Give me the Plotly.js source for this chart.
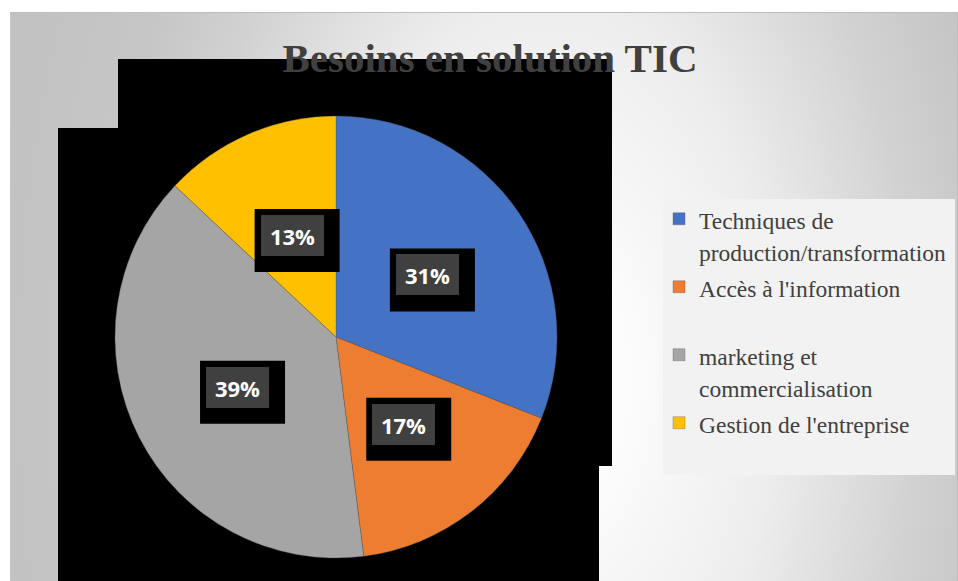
<!DOCTYPE html>
<html>
<head>
<meta charset="utf-8">
<script src="https://cdn.plot.ly/plotly-3.0.1.min.js"></script>
<style>
  html, body { margin:0; padding:0; background:#ffffff; }
  #bg { position:absolute; left:10px; top:12px; width:946px; height:568px;
        border-top:1px solid #bdbdbd; border-left:1px solid #c6c6c6; border-right:1px solid #bdbdbd;
        background: radial-gradient(ellipse 560px 960px at 540px 368px, #ffffff 0%, #fbfbfb 15%, #ededed 40%, #d2d2d2 65%, #c6c6c6 80%, #c2c2c2 100%); }
  #chart { position:absolute; left:0; top:0; width:958px; height:581px; }
</style>
</head>
<body>
<div id="bg"></div>
<div id="chart"></div>
<script>
// ---- data ----
const titleText = "Besoins en solution TIC";
const categories = [
  "Techniques de<br>production/transformation",
  "Accès à l'information<br>\u00a0",
  "marketing et<br>commercialisation",
  "Gestion de l'entreprise"
];
const values = [31, 17, 39, 13];
const colors = ["#4472C4", "#ED7D31", "#A5A5A5", "#FFC000"];

// ---- layout geometry (pixels) ----
const W = 958, H = 581;
const cx = 336, cy = 337, R = 221;
const px = x => x / W;
const py = y => 1 - y / H;

const legendLabels = categories.map(c =>
  c.split('<br>').map(s => '<span style="font-size:23.5px">' + s + '</span>').join('<br>')
);

const total = values.reduce((a, b) => a + b, 0);
const annotations = [];
const shapes = [
  // Excel shadow artefacts (black blocks)
  {type:'rect', xref:'paper', yref:'paper', x0:px(118), x1:px(612), y0:py(466), y1:py(59),
   fillcolor:'#000000', line:{width:0}, layer:'below'},
  {type:'rect', xref:'paper', yref:'paper', x0:px(58), x1:px(599), y0:py(585), y1:py(128),
   fillcolor:'#000000', line:{width:0}, layer:'below'},
  // legend panel
  {type:'rect', xref:'paper', yref:'paper', x0:px(663), x1:px(955), y0:py(475), y1:py(199),
   fillcolor:'#f2f2f2', line:{width:0}, layer:'below'}
];

let cum = 0;
values.forEach((v, i) => {
  const mid = (cum + v / 2) / total * 2 * Math.PI;
  cum += v;
  const lx = cx + 0.5 * R * Math.sin(mid);
  const ly = cy - 0.5 * R * Math.cos(mid);
  const pct = Math.round(v / total * 100) + '%';
  shapes.push({type:'rect', xref:'paper', yref:'paper', layer:'above',
    xsizemode:'pixel', ysizemode:'pixel', xanchor:px(lx), yanchor:py(ly),
    x0:-37.5, x1:47.5, y0:-36.5, y1:26.5, fillcolor:'#000000', line:{width:0}});
  annotations.push({xref:'paper', yref:'paper', x:px(lx), y:py(ly), xanchor:'center', yanchor:'middle',
    text:'<b>' + pct + '</b>', showarrow:false, width:63, height:41, borderpad:0, borderwidth:0,
    bgcolor:'#404040', font:{family:'Open Sans', size:22, color:'#ffffff'}});
});

const trace = {
  type:'pie',
  labels: legendLabels,
  values: values,
  sort:false,
  direction:'clockwise',
  rotation:0,
  marker:{colors: colors, line:{width:0.6, color:'rgba(90,90,90,0.6)'}},
  textinfo:'none',
  hoverinfo:'none',
  domain:{x:[px(cx - R), px(cx + R)], y:[py(cy + R), py(cy - R)]}
};

const layout = {
  width:W, height:H,
  margin:{l:0, r:0, t:0, b:0, autoexpand:false},
  paper_bgcolor:'rgba(0,0,0,0)',
  plot_bgcolor:'rgba(0,0,0,0)',
  title:{text:'<b>' + titleText + '</b>', x:490 / W, xanchor:'center', xref:'paper',
         y:1 - 43 / H, yanchor:'top', yref:'container',
         font:{family:'Liberation Serif', size:41, color:'#404040'}},
  showlegend:true,
  legend:{x:px(659), xanchor:'left', y:py(196), yanchor:'top', bgcolor:'rgba(0,0,0,0)',
          valign:'top', font:{family:'Liberation Serif', size:25, color:'#404040'}},
  shapes: shapes,
  annotations: annotations
};

Plotly.newPlot('chart', [trace], layout, {displayModeBar:false, staticPlot:true});
</script>
</body>
</html>
